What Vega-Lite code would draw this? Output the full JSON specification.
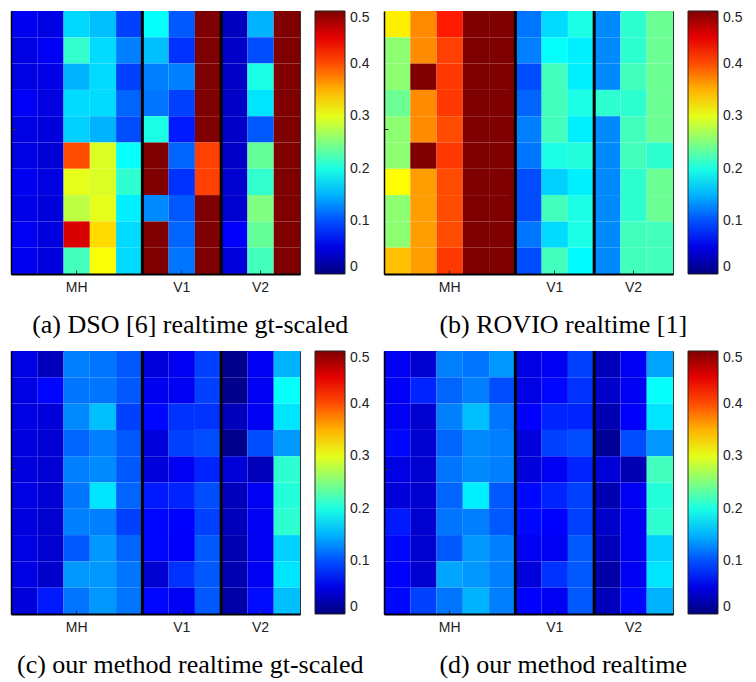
{
"$schema": "https://vega.github.io/schema/vega-lite/v6.json",
"padding": {"left": 10, "top": 9, "right": 0, "bottom": 0},
"background": "white",
"config": {
  "view": {"stroke": "#333", "strokeWidth": 1},
  "axis": {"domainColor": "black", "tickColor": "#333"},
  "title": {"font": "Liberation Serif", "fontSize": 26, "fontWeight": "normal", "color": "black", "orient": "bottom", "frame": "bounds", "anchor": "middle", "offset": 18}
},
"datasets": {
"seps": [{"c":5},{"c":8}],
"a": [
{"c":0,"r":0,"v":0.055},{"c":0,"r":1,"v":0.05},{"c":0,"r":2,"v":0.05},{"c":0,"r":3,"v":0.058},{"c":0,"r":4,"v":0.05},{"c":0,"r":5,"v":0.05},{"c":0,"r":6,"v":0.055},{"c":0,"r":7,"v":0.052},{"c":0,"r":8,"v":0.056},{"c":0,"r":9,"v":0.055},
{"c":1,"r":0,"v":0.05},{"c":1,"r":1,"v":0.058},{"c":1,"r":2,"v":0.05},{"c":1,"r":3,"v":0.048},{"c":1,"r":4,"v":0.045},{"c":1,"r":5,"v":0.042},{"c":1,"r":6,"v":0.048},{"c":1,"r":7,"v":0.045},{"c":1,"r":8,"v":0.047},{"c":1,"r":9,"v":0.046},
{"c":2,"r":0,"v":0.169},{"c":2,"r":1,"v":0.212},{"c":2,"r":2,"v":0.15},{"c":2,"r":3,"v":0.17},{"c":2,"r":4,"v":0.165},{"c":2,"r":5,"v":0.40},{"c":2,"r":6,"v":0.30},{"c":2,"r":7,"v":0.28},{"c":2,"r":8,"v":0.456},{"c":2,"r":9,"v":0.22},
{"c":3,"r":0,"v":0.156},{"c":3,"r":1,"v":0.17},{"c":3,"r":2,"v":0.17},{"c":3,"r":3,"v":0.17},{"c":3,"r":4,"v":0.15},{"c":3,"r":5,"v":0.295},{"c":3,"r":6,"v":0.295},{"c":3,"r":7,"v":0.30},{"c":3,"r":8,"v":0.33},{"c":3,"r":9,"v":0.31},
{"c":4,"r":0,"v":0.094},{"c":4,"r":1,"v":0.125},{"c":4,"r":2,"v":0.094},{"c":4,"r":3,"v":0.112},{"c":4,"r":4,"v":0.1},{"c":4,"r":5,"v":0.19},{"c":4,"r":6,"v":0.21},{"c":4,"r":7,"v":0.18},{"c":4,"r":8,"v":0.17},{"c":4,"r":9,"v":0.17},
{"c":5,"r":0,"v":0.19},{"c":5,"r":1,"v":0.156},{"c":5,"r":2,"v":0.125},{"c":5,"r":3,"v":0.12},{"c":5,"r":4,"v":0.2},{"c":5,"r":5,"v":0.5},{"c":5,"r":6,"v":0.5},{"c":5,"r":7,"v":0.13},{"c":5,"r":8,"v":0.5},{"c":5,"r":9,"v":0.5},
{"c":6,"r":0,"v":0.106},{"c":6,"r":1,"v":0.087},{"c":6,"r":2,"v":0.125},{"c":6,"r":3,"v":0.094},{"c":6,"r":4,"v":0.075},{"c":6,"r":5,"v":0.112},{"c":6,"r":6,"v":0.087},{"c":6,"r":7,"v":0.106},{"c":6,"r":8,"v":0.112},{"c":6,"r":9,"v":0.12},
{"c":7,"r":0,"v":0.5},{"c":7,"r":1,"v":0.5},{"c":7,"r":2,"v":0.5},{"c":7,"r":3,"v":0.5},{"c":7,"r":4,"v":0.5},{"c":7,"r":5,"v":0.406},{"c":7,"r":6,"v":0.406},{"c":7,"r":7,"v":0.5},{"c":7,"r":8,"v":0.5},{"c":7,"r":9,"v":0.5},
{"c":8,"r":0,"v":0.031},{"c":8,"r":1,"v":0.036},{"c":8,"r":2,"v":0.035},{"c":8,"r":3,"v":0.035},{"c":8,"r":4,"v":0.035},{"c":8,"r":5,"v":0.035},{"c":8,"r":6,"v":0.04},{"c":8,"r":7,"v":0.04},{"c":8,"r":8,"v":0.06},{"c":8,"r":9,"v":0.045},
{"c":9,"r":0,"v":0.15},{"c":9,"r":1,"v":0.1},{"c":9,"r":2,"v":0.2},{"c":9,"r":3,"v":0.175},{"c":9,"r":4,"v":0.106},{"c":9,"r":5,"v":0.237},{"c":9,"r":6,"v":0.212},{"c":9,"r":7,"v":0.25},{"c":9,"r":8,"v":0.237},{"c":9,"r":9,"v":0.22},
{"c":10,"r":0,"v":0.5},{"c":10,"r":1,"v":0.5},{"c":10,"r":2,"v":0.5},{"c":10,"r":3,"v":0.5},{"c":10,"r":4,"v":0.5},{"c":10,"r":5,"v":0.5},{"c":10,"r":6,"v":0.5},{"c":10,"r":7,"v":0.5},{"c":10,"r":8,"v":0.5},{"c":10,"r":9,"v":0.5}
],
"b": [
{"c":0,"r":0,"v":0.32},{"c":0,"r":1,"v":0.256},{"c":0,"r":2,"v":0.256},{"c":0,"r":3,"v":0.24},{"c":0,"r":4,"v":0.256},{"c":0,"r":5,"v":0.256},{"c":0,"r":6,"v":0.3125},{"c":0,"r":7,"v":0.256},{"c":0,"r":8,"v":0.256},{"c":0,"r":9,"v":0.343},
{"c":1,"r":0,"v":0.369},{"c":1,"r":1,"v":0.369},{"c":1,"r":2,"v":0.5},{"c":1,"r":3,"v":0.369},{"c":1,"r":4,"v":0.369},{"c":1,"r":5,"v":0.5},{"c":1,"r":6,"v":0.36},{"c":1,"r":7,"v":0.36},{"c":1,"r":8,"v":0.36},{"c":1,"r":9,"v":0.36},
{"c":2,"r":0,"v":0.425},{"c":2,"r":1,"v":0.406},{"c":2,"r":2,"v":0.41},{"c":2,"r":3,"v":0.41},{"c":2,"r":4,"v":0.4},{"c":2,"r":5,"v":0.41},{"c":2,"r":6,"v":0.4},{"c":2,"r":7,"v":0.4},{"c":2,"r":8,"v":0.4},{"c":2,"r":9,"v":0.41},
{"c":3,"r":0,"v":0.5},{"c":3,"r":1,"v":0.5},{"c":3,"r":2,"v":0.5},{"c":3,"r":3,"v":0.5},{"c":3,"r":4,"v":0.5},{"c":3,"r":5,"v":0.5},{"c":3,"r":6,"v":0.5},{"c":3,"r":7,"v":0.5},{"c":3,"r":8,"v":0.5},{"c":3,"r":9,"v":0.5},
{"c":4,"r":0,"v":0.5},{"c":4,"r":1,"v":0.5},{"c":4,"r":2,"v":0.5},{"c":4,"r":3,"v":0.5},{"c":4,"r":4,"v":0.5},{"c":4,"r":5,"v":0.5},{"c":4,"r":6,"v":0.5},{"c":4,"r":7,"v":0.5},{"c":4,"r":8,"v":0.5},{"c":4,"r":9,"v":0.5},
{"c":5,"r":0,"v":0.12},{"c":5,"r":1,"v":0.125},{"c":5,"r":2,"v":0.1},{"c":5,"r":3,"v":0.112},{"c":5,"r":4,"v":0.125},{"c":5,"r":5,"v":0.12},{"c":5,"r":6,"v":0.1},{"c":5,"r":7,"v":0.1},{"c":5,"r":8,"v":0.12},{"c":5,"r":9,"v":0.1},
{"c":6,"r":0,"v":0.17},{"c":6,"r":1,"v":0.19},{"c":6,"r":2,"v":0.22},{"c":6,"r":3,"v":0.22},{"c":6,"r":4,"v":0.22},{"c":6,"r":5,"v":0.2},{"c":6,"r":6,"v":0.165},{"c":6,"r":7,"v":0.22},{"c":6,"r":8,"v":0.17},{"c":6,"r":9,"v":0.22},
{"c":7,"r":0,"v":0.2},{"c":7,"r":1,"v":0.18},{"c":7,"r":2,"v":0.18},{"c":7,"r":3,"v":0.2},{"c":7,"r":4,"v":0.18},{"c":7,"r":5,"v":0.205},{"c":7,"r":6,"v":0.18},{"c":7,"r":7,"v":0.2},{"c":7,"r":8,"v":0.2},{"c":7,"r":9,"v":0.185},
{"c":8,"r":0,"v":0.13},{"c":8,"r":1,"v":0.13},{"c":8,"r":2,"v":0.13},{"c":8,"r":3,"v":0.21},{"c":8,"r":4,"v":0.13},{"c":8,"r":5,"v":0.13},{"c":8,"r":6,"v":0.13},{"c":8,"r":7,"v":0.13},{"c":8,"r":8,"v":0.13},{"c":8,"r":9,"v":0.13},
{"c":9,"r":0,"v":0.21},{"c":9,"r":1,"v":0.21},{"c":9,"r":2,"v":0.22},{"c":9,"r":3,"v":0.21},{"c":9,"r":4,"v":0.22},{"c":9,"r":5,"v":0.22},{"c":9,"r":6,"v":0.21},{"c":9,"r":7,"v":0.21},{"c":9,"r":8,"v":0.22},{"c":9,"r":9,"v":0.22},
{"c":10,"r":0,"v":0.24},{"c":10,"r":1,"v":0.24},{"c":10,"r":2,"v":0.24},{"c":10,"r":3,"v":0.24},{"c":10,"r":4,"v":0.24},{"c":10,"r":5,"v":0.21},{"c":10,"r":6,"v":0.24},{"c":10,"r":7,"v":0.24},{"c":10,"r":8,"v":0.22},{"c":10,"r":9,"v":0.22}
],
"cc": [
{"c":0,"r":0,"v":0.05},{"c":0,"r":1,"v":0.05},{"c":0,"r":2,"v":0.05},{"c":0,"r":3,"v":0.047},{"c":0,"r":4,"v":0.047},{"c":0,"r":5,"v":0.05},{"c":0,"r":6,"v":0.047},{"c":0,"r":7,"v":0.05},{"c":0,"r":8,"v":0.05},{"c":0,"r":9,"v":0.045},
{"c":1,"r":0,"v":0.03},{"c":1,"r":1,"v":0.065},{"c":1,"r":2,"v":0.045},{"c":1,"r":3,"v":0.042},{"c":1,"r":4,"v":0.042},{"c":1,"r":5,"v":0.042},{"c":1,"r":6,"v":0.04},{"c":1,"r":7,"v":0.04},{"c":1,"r":8,"v":0.038},{"c":1,"r":9,"v":0.075},
{"c":2,"r":0,"v":0.125},{"c":2,"r":1,"v":0.12},{"c":2,"r":2,"v":0.13},{"c":2,"r":3,"v":0.112},{"c":2,"r":4,"v":0.125},{"c":2,"r":5,"v":0.12},{"c":2,"r":6,"v":0.125},{"c":2,"r":7,"v":0.106},{"c":2,"r":8,"v":0.137},{"c":2,"r":9,"v":0.12},
{"c":3,"r":0,"v":0.12},{"c":3,"r":1,"v":0.12},{"c":3,"r":2,"v":0.156},{"c":3,"r":3,"v":0.125},{"c":3,"r":4,"v":0.13},{"c":3,"r":5,"v":0.175},{"c":3,"r":6,"v":0.125},{"c":3,"r":7,"v":0.137},{"c":3,"r":8,"v":0.137},{"c":3,"r":9,"v":0.137},
{"c":4,"r":0,"v":0.106},{"c":4,"r":1,"v":0.106},{"c":4,"r":2,"v":0.094},{"c":4,"r":3,"v":0.106},{"c":4,"r":4,"v":0.106},{"c":4,"r":5,"v":0.112},{"c":4,"r":6,"v":0.094},{"c":4,"r":7,"v":0.112},{"c":4,"r":8,"v":0.12},{"c":4,"r":9,"v":0.12},
{"c":5,"r":0,"v":0.045},{"c":5,"r":1,"v":0.055},{"c":5,"r":2,"v":0.066},{"c":5,"r":3,"v":0.045},{"c":5,"r":4,"v":0.045},{"c":5,"r":5,"v":0.075},{"c":5,"r":6,"v":0.065},{"c":5,"r":7,"v":0.065},{"c":5,"r":8,"v":0.04},{"c":5,"r":9,"v":0.065},
{"c":6,"r":0,"v":0.056},{"c":6,"r":1,"v":0.056},{"c":6,"r":2,"v":0.087},{"c":6,"r":3,"v":0.094},{"c":6,"r":4,"v":0.056},{"c":6,"r":5,"v":0.08},{"c":6,"r":6,"v":0.0625},{"c":6,"r":7,"v":0.06},{"c":6,"r":8,"v":0.087},{"c":6,"r":9,"v":0.056},
{"c":7,"r":0,"v":0.094},{"c":7,"r":1,"v":0.094},{"c":7,"r":2,"v":0.087},{"c":7,"r":3,"v":0.1},{"c":7,"r":4,"v":0.08},{"c":7,"r":5,"v":0.1},{"c":7,"r":6,"v":0.094},{"c":7,"r":7,"v":0.106},{"c":7,"r":8,"v":0.106},{"c":7,"r":9,"v":0.106},
{"c":8,"r":0,"v":0.006},{"c":8,"r":1,"v":0.006},{"c":8,"r":2,"v":0.03},{"c":8,"r":3,"v":0.006},{"c":8,"r":4,"v":0.044},{"c":8,"r":5,"v":0.03},{"c":8,"r":6,"v":0.03},{"c":8,"r":7,"v":0.025},{"c":8,"r":8,"v":0.025},{"c":8,"r":9,"v":0.02},
{"c":9,"r":0,"v":0.056},{"c":9,"r":1,"v":0.056},{"c":9,"r":2,"v":0.056},{"c":9,"r":3,"v":0.1},{"c":9,"r":4,"v":0.03},{"c":9,"r":5,"v":0.056},{"c":9,"r":6,"v":0.056},{"c":9,"r":7,"v":0.056},{"c":9,"r":8,"v":0.056},{"c":9,"r":9,"v":0.068},
{"c":10,"r":0,"v":0.15},{"c":10,"r":1,"v":0.19},{"c":10,"r":2,"v":0.175},{"c":10,"r":3,"v":0.137},{"c":10,"r":4,"v":0.21},{"c":10,"r":5,"v":0.205},{"c":10,"r":6,"v":0.21},{"c":10,"r":7,"v":0.165},{"c":10,"r":8,"v":0.175},{"c":10,"r":9,"v":0.156}
],
"d": [
{"c":0,"r":0,"v":0.056},{"c":0,"r":1,"v":0.06},{"c":0,"r":2,"v":0.056},{"c":0,"r":3,"v":0.066},{"c":0,"r":4,"v":0.05},{"c":0,"r":5,"v":0.045},{"c":0,"r":6,"v":0.075},{"c":0,"r":7,"v":0.066},{"c":0,"r":8,"v":0.0625},{"c":0,"r":9,"v":0.066},
{"c":1,"r":0,"v":0.04},{"c":1,"r":1,"v":0.08},{"c":1,"r":2,"v":0.04},{"c":1,"r":3,"v":0.04},{"c":1,"r":4,"v":0.04},{"c":1,"r":5,"v":0.04},{"c":1,"r":6,"v":0.04},{"c":1,"r":7,"v":0.04},{"c":1,"r":8,"v":0.04},{"c":1,"r":9,"v":0.094},
{"c":2,"r":0,"v":0.125},{"c":2,"r":1,"v":0.112},{"c":2,"r":2,"v":0.125},{"c":2,"r":3,"v":0.112},{"c":2,"r":4,"v":0.12},{"c":2,"r":5,"v":0.112},{"c":2,"r":6,"v":0.12},{"c":2,"r":7,"v":0.106},{"c":2,"r":8,"v":0.144},{"c":2,"r":9,"v":0.12},
{"c":3,"r":0,"v":0.12},{"c":3,"r":1,"v":0.125},{"c":3,"r":2,"v":0.156},{"c":3,"r":3,"v":0.13},{"c":3,"r":4,"v":0.13},{"c":3,"r":5,"v":0.18},{"c":3,"r":6,"v":0.125},{"c":3,"r":7,"v":0.137},{"c":3,"r":8,"v":0.137},{"c":3,"r":9,"v":0.15},
{"c":4,"r":0,"v":0.137},{"c":4,"r":1,"v":0.1},{"c":4,"r":2,"v":0.12},{"c":4,"r":3,"v":0.125},{"c":4,"r":4,"v":0.125},{"c":4,"r":5,"v":0.106},{"c":4,"r":6,"v":0.106},{"c":4,"r":7,"v":0.125},{"c":4,"r":8,"v":0.125},{"c":4,"r":9,"v":0.125},
{"c":5,"r":0,"v":0.05},{"c":5,"r":1,"v":0.05},{"c":5,"r":2,"v":0.0625},{"c":5,"r":3,"v":0.045},{"c":5,"r":4,"v":0.045},{"c":5,"r":5,"v":0.066},{"c":5,"r":6,"v":0.066},{"c":5,"r":7,"v":0.056},{"c":5,"r":8,"v":0.045},{"c":5,"r":9,"v":0.0625},
{"c":6,"r":0,"v":0.056},{"c":6,"r":1,"v":0.066},{"c":6,"r":2,"v":0.08},{"c":6,"r":3,"v":0.094},{"c":6,"r":4,"v":0.056},{"c":6,"r":5,"v":0.08},{"c":6,"r":6,"v":0.0625},{"c":6,"r":7,"v":0.056},{"c":6,"r":8,"v":0.087},{"c":6,"r":9,"v":0.056},
{"c":7,"r":0,"v":0.094},{"c":7,"r":1,"v":0.087},{"c":7,"r":2,"v":0.08},{"c":7,"r":3,"v":0.1},{"c":7,"r":4,"v":0.08},{"c":7,"r":5,"v":0.094},{"c":7,"r":6,"v":0.094},{"c":7,"r":7,"v":0.106},{"c":7,"r":8,"v":0.106},{"c":7,"r":9,"v":0.106},
{"c":8,"r":0,"v":0.03},{"c":8,"r":1,"v":0.037},{"c":8,"r":2,"v":0.025},{"c":8,"r":3,"v":0.0125},{"c":8,"r":4,"v":0.044},{"c":8,"r":5,"v":0.025},{"c":8,"r":6,"v":0.037},{"c":8,"r":7,"v":0.03},{"c":8,"r":8,"v":0.019},{"c":8,"r":9,"v":0.03},
{"c":9,"r":0,"v":0.056},{"c":9,"r":1,"v":0.056},{"c":9,"r":2,"v":0.06},{"c":9,"r":3,"v":0.1},{"c":9,"r":4,"v":0.025},{"c":9,"r":5,"v":0.056},{"c":9,"r":6,"v":0.056},{"c":9,"r":7,"v":0.056},{"c":9,"r":8,"v":0.056},{"c":9,"r":9,"v":0.066},
{"c":10,"r":0,"v":0.144},{"c":10,"r":1,"v":0.19},{"c":10,"r":2,"v":0.175},{"c":10,"r":3,"v":0.137},{"c":10,"r":4,"v":0.22},{"c":10,"r":5,"v":0.205},{"c":10,"r":6,"v":0.21},{"c":10,"r":7,"v":0.165},{"c":10,"r":8,"v":0.175},{"c":10,"r":9,"v":0.15}
]
},
"columns": 2,
"spacing": {"row": 10, "column": 12},
"resolve": {"scale": {"color": "independent", "x": "independent", "y": "independent"}, "legend": {"color": "independent"}},
"concat": [
{
 "width": 289, "height": 263,
 "title": {"text": "(a) DSO [6] realtime gt-scaled"},
 "layer": [
  {"data": {"name": "a"}, "mark": {"type": "rect"},
   "encoding": {
    "x": {"field": "c", "type": "ordinal", "scale": {"paddingInner": 0, "paddingOuter": 0}, "axis": {"values": [2,6,9], "labelExpr": "datum.value == 2 ? 'MH' : datum.value == 6 ? 'V1' : 'V2'", "title": null, "labelAngle": 0, "labelFont": "Liberation Sans", "labelFontSize": 14, "labelColor": "#222", "tickSize": -4, "labelPadding": 10, "domainWidth": 2}},
    "y": {"field": "r", "type": "ordinal", "scale": {"paddingInner": 0, "paddingOuter": 0}, "axis": {"values": [4], "labels": false, "title": null, "tickSize": -4, "domainWidth": 1.5}},
    "color": {"field": "v", "type": "quantitative", "scale": {"type": "linear", "domain": [0, 0.0625, 0.1875, 0.3125, 0.4375, 0.5], "range": ["#00007f", "#0000ff", "#00ffff", "#ffff00", "#ff0000", "#7f0000"], "interpolate": "rgb", "clamp": true},
     "legend": {"title": null, "orient": "right", "offset": 15, "gradientLength": 263, "gradientThickness": 30, "values": [0,0.1,0.2,0.3,0.4,0.5], "format": ".1~f", "labelFont": "Liberation Sans", "labelFontSize": 14, "labelColor": "#222", "labelBaseline": "middle", "labelOffset": 5, "gradientStrokeColor": "#222", "gradientStrokeWidth": 1}}
   }},
  {"data": {"name": "seps"}, "mark": {"type": "rule", "color": "black", "strokeWidth": 3}, "encoding": {"x": {"field": "c", "type": "ordinal", "bandPosition": 0}}}
 ]
},
{
 "width": 289, "height": 263,
 "title": {"text": "(b) ROVIO realtime [1]"},
 "layer": [
  {"data": {"name": "b"}, "mark": {"type": "rect"},
   "encoding": {
    "x": {"field": "c", "type": "ordinal", "scale": {"paddingInner": 0, "paddingOuter": 0}, "axis": {"values": [2,6,9], "labelExpr": "datum.value == 2 ? 'MH' : datum.value == 6 ? 'V1' : 'V2'", "title": null, "labelAngle": 0, "labelFont": "Liberation Sans", "labelFontSize": 14, "labelColor": "#222", "tickSize": -4, "labelPadding": 10, "domainWidth": 2}},
    "y": {"field": "r", "type": "ordinal", "scale": {"paddingInner": 0, "paddingOuter": 0}, "axis": {"values": [4], "labels": false, "title": null, "tickSize": -4, "domainWidth": 1.5}},
    "color": {"field": "v", "type": "quantitative", "scale": {"type": "linear", "domain": [0, 0.0625, 0.1875, 0.3125, 0.4375, 0.5], "range": ["#00007f", "#0000ff", "#00ffff", "#ffff00", "#ff0000", "#7f0000"], "interpolate": "rgb", "clamp": true},
     "legend": {"title": null, "orient": "right", "offset": 15, "gradientLength": 263, "gradientThickness": 30, "values": [0,0.1,0.2,0.3,0.4,0.5], "format": ".1~f", "labelFont": "Liberation Sans", "labelFontSize": 14, "labelColor": "#222", "labelBaseline": "middle", "labelOffset": 5, "gradientStrokeColor": "#222", "gradientStrokeWidth": 1}}
   }},
  {"data": {"name": "seps"}, "mark": {"type": "rule", "color": "black", "strokeWidth": 3}, "encoding": {"x": {"field": "c", "type": "ordinal", "bandPosition": 0}}}
 ]
},
{
 "width": 289, "height": 263,
 "title": {"text": "(c) our method realtime gt-scaled"},
 "layer": [
  {"data": {"name": "cc"}, "mark": {"type": "rect"},
   "encoding": {
    "x": {"field": "c", "type": "ordinal", "scale": {"paddingInner": 0, "paddingOuter": 0}, "axis": {"values": [2,6,9], "labelExpr": "datum.value == 2 ? 'MH' : datum.value == 6 ? 'V1' : 'V2'", "title": null, "labelAngle": 0, "labelFont": "Liberation Sans", "labelFontSize": 14, "labelColor": "#222", "tickSize": -4, "labelPadding": 10, "domainWidth": 2}},
    "y": {"field": "r", "type": "ordinal", "scale": {"paddingInner": 0, "paddingOuter": 0}, "axis": {"values": [4], "labels": false, "title": null, "tickSize": -4, "domainWidth": 1.5}},
    "color": {"field": "v", "type": "quantitative", "scale": {"type": "linear", "domain": [0, 0.0625, 0.1875, 0.3125, 0.4375, 0.5], "range": ["#00007f", "#0000ff", "#00ffff", "#ffff00", "#ff0000", "#7f0000"], "interpolate": "rgb", "clamp": true},
     "legend": {"title": null, "orient": "right", "offset": 15, "gradientLength": 263, "gradientThickness": 30, "values": [0,0.1,0.2,0.3,0.4,0.5], "format": ".1~f", "labelFont": "Liberation Sans", "labelFontSize": 14, "labelColor": "#222", "labelBaseline": "middle", "labelOffset": 5, "gradientStrokeColor": "#222", "gradientStrokeWidth": 1}}
   }},
  {"data": {"name": "seps"}, "mark": {"type": "rule", "color": "black", "strokeWidth": 3}, "encoding": {"x": {"field": "c", "type": "ordinal", "bandPosition": 0}}}
 ]
},
{
 "width": 289, "height": 263,
 "title": {"text": "(d) our method realtime"},
 "layer": [
  {"data": {"name": "d"}, "mark": {"type": "rect"},
   "encoding": {
    "x": {"field": "c", "type": "ordinal", "scale": {"paddingInner": 0, "paddingOuter": 0}, "axis": {"values": [2,6,9], "labelExpr": "datum.value == 2 ? 'MH' : datum.value == 6 ? 'V1' : 'V2'", "title": null, "labelAngle": 0, "labelFont": "Liberation Sans", "labelFontSize": 14, "labelColor": "#222", "tickSize": -4, "labelPadding": 10, "domainWidth": 2}},
    "y": {"field": "r", "type": "ordinal", "scale": {"paddingInner": 0, "paddingOuter": 0}, "axis": {"values": [4], "labels": false, "title": null, "tickSize": -4, "domainWidth": 1.5}},
    "color": {"field": "v", "type": "quantitative", "scale": {"type": "linear", "domain": [0, 0.0625, 0.1875, 0.3125, 0.4375, 0.5], "range": ["#00007f", "#0000ff", "#00ffff", "#ffff00", "#ff0000", "#7f0000"], "interpolate": "rgb", "clamp": true},
     "legend": {"title": null, "orient": "right", "offset": 15, "gradientLength": 263, "gradientThickness": 30, "values": [0,0.1,0.2,0.3,0.4,0.5], "format": ".1~f", "labelFont": "Liberation Sans", "labelFontSize": 14, "labelColor": "#222", "labelBaseline": "middle", "labelOffset": 5, "gradientStrokeColor": "#222", "gradientStrokeWidth": 1}}
   }},
  {"data": {"name": "seps"}, "mark": {"type": "rule", "color": "black", "strokeWidth": 3}, "encoding": {"x": {"field": "c", "type": "ordinal", "bandPosition": 0}}}
 ]
}
]
}
